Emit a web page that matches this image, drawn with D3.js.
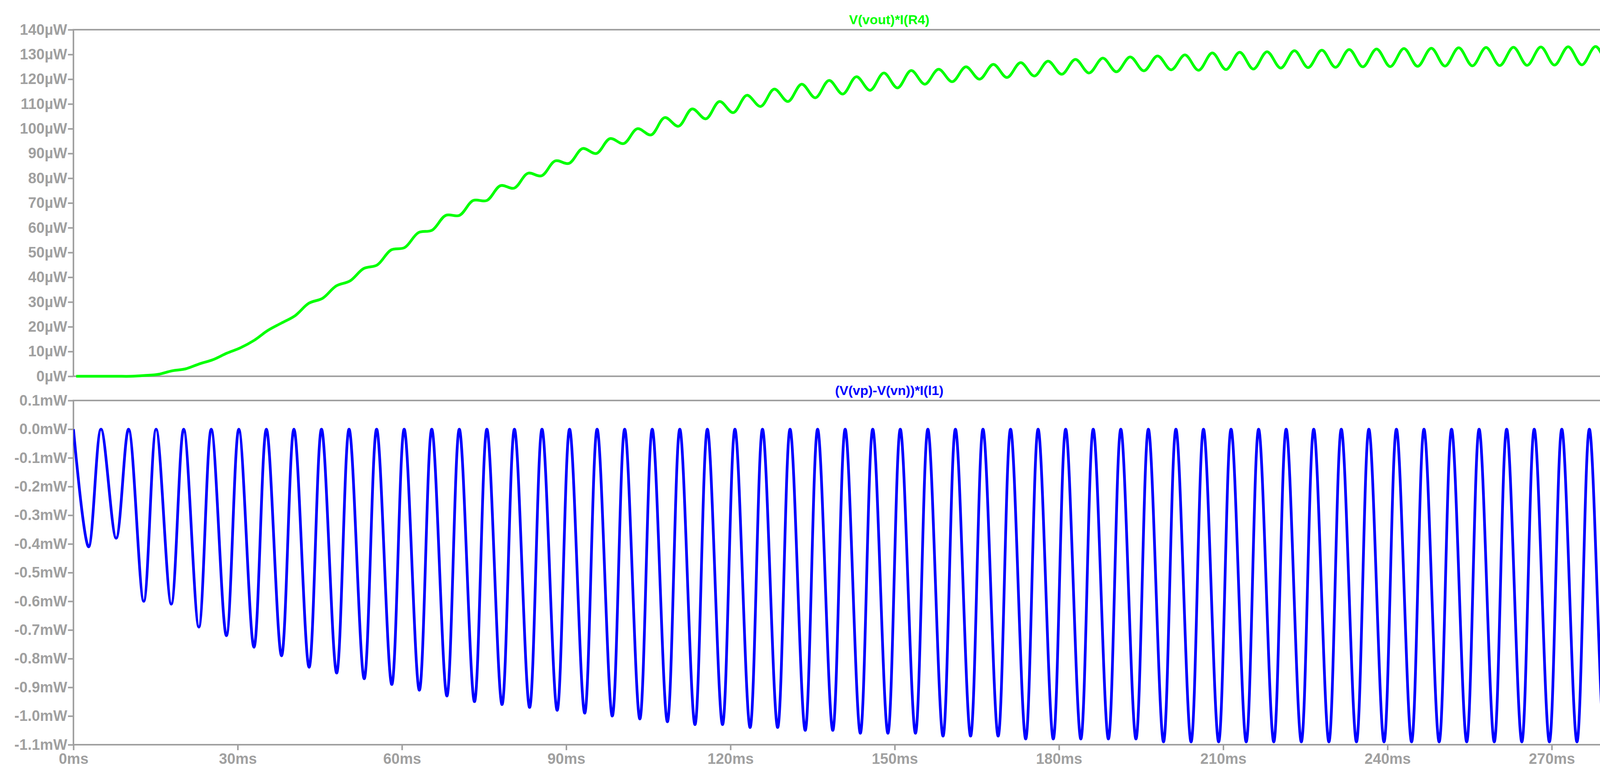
<!DOCTYPE html>
<html>
<head>
<meta charset="utf-8">
<script src="https://cdn.jsdelivr.net/npm/d3@7"></script>
<style>
  body { margin: 0; background: #fff; }
  text { font-family: "Liberation Sans Narrow", "Liberation Sans", Arial, sans-serif; }
</style>
</head>
<body>
<div id="chart"></div>
<script>
// tick labels
const xTicks = [0, 30, 60, 90, 120, 150, 180, 210, 240, 270]
const topTicks = [0, 10, 20, 30, 40, 50, 60, 70, 80, 90, 100, 110, 120, 130, 140]
const botTicks = [0.1, 0.0, -0.1, -0.2, -0.3, -0.4, -0.5, -0.6, -0.7, -0.8, -0.9, -1.0, -1.1]

// V(vout)*I(R4) in µW, one peak and one trough per ripple cycle (5ms)
const greenPeak = [0,0,0.3,2.2,5,9.3,14.5,21.5,29.5,36.5,43.5,51,58,65,71,77,82,87,92,96,100,104.5,108,111,113.5,116,118,119.5,121,122.5,123.5,124,125,126,126.7,127.3,128,128.5,129,129.4,129.8,130.6,130.9,131.1,131.5,131.7,132,132.2,132.4,132.5,132.7,132.8,132.9,133,133.1,133.2,133.3,133.4,133.5,133.6]
const greenTrough = [0,0,0,0.8,3,6.7,11.5,18.5,24.5,31.5,38.5,45,52,59,65,71,76,81,86,90,94,97.5,101,104,106.5,109,111,112.5,114,115.5,116.5,118,119,120,120.7,121.3,122,122.5,123,123.4,123.8,123.6,123.9,124.1,124.5,124.7,124.8,125,125.1,125.2,125.3,125.4,125.5,125.6,125.7,125.8,125.9,126,126.1,126.2]

// (V(vp)-V(vn))*I(l1) in mW, trough of each cycle (peaks sit at 0)
const blueTrough = [-0.41,-0.38,-0.60,-0.61,-0.69,-0.72,-0.76,-0.79,-0.83,-0.85,-0.87,-0.89,-0.91,-0.93,-0.95,-0.96,-0.97,-0.98,-0.99,-1.00,-1.01,-1.02,-1.03,-1.03,-1.04,-1.04,-1.05,-1.05,-1.06,-1.06,-1.06,-1.07,-1.07,-1.07,-1.08,-1.08,-1.08,-1.08,-1.08,-1.09,-1.09,-1.09,-1.09,-1.09,-1.09,-1.09,-1.09,-1.09,-1.09,-1.09,-1.09,-1.09,-1.09,-1.09,-1.09,-1.09,-1.09,-1.09,-1.09]

const W = 4401, H = 2004
const left = 188, right = 4365
const grey = "#a0a0a0"

const svg = d3.select("#chart").append("svg")
  .attr("width", W).attr("height", H)

const x = d3.scaleLinear().domain([0, 298]).range([left, right])

//build the point lists for each trace
const greenPts = []
greenPeak.forEach((p, k) => {
  greenPts.push([k * 5 + 0.5, greenTrough[k]])
  greenPts.push([k * 5 + 3, p])
})
const bluePeriod = 297 / blueTrough.length
const bluePts = [[0, 0]]
blueTrough.forEach((v, k) => {
  bluePts.push([k * bluePeriod + bluePeriod * 0.55, v])
  bluePts.push([(k + 1) * bluePeriod, 0])
})

function panel(top, bottom, domain, ticks, fmt, title, color, pts) {
  const y = d3.scaleLinear().domain(domain).range([bottom, top])
  const g = svg.append("g")

  //box
  g.append("rect")
    .attr("x", left).attr("y", top)
    .attr("width", right - left).attr("height", bottom - top)
    .attr("fill", "none").attr("stroke", grey).attr("stroke-width", 4)

  const yAxis = d3.axisLeft(y).tickValues(ticks).tickFormat(fmt).tickSize(14).tickPadding(2)
  g.append("g").attr("transform", `translate(${left},0)`).call(yAxis)
    .call(a => a.select(".domain").remove())
    .call(a => a.selectAll("line").attr("stroke", grey).attr("stroke-width", 4))
    .call(a => a.selectAll("text").attr("fill", grey).attr("font-size", 38).attr("font-weight", "bold").attr("font-family", null))

  g.append("text")
    .attr("x", (left + right) / 2).attr("y", top - 14)
    .attr("text-anchor", "middle")
    .attr("font-size", 34).attr("font-weight", "bold")
    .attr("fill", color).text(title)

  const clip = "clip" + Math.round(top)
  g.append("clipPath").attr("id", clip).append("rect")
    .attr("x", left).attr("y", top - 6).attr("width", right - left).attr("height", bottom - top + 12)

  g.append("path")
    .datum(pts)
    .attr("clip-path", `url(#${clip})`)
    .attr("fill", "none").attr("stroke", color).attr("stroke-width", 7)
    .attr("d", d3.line().x(d => x(d[0])).y(d => y(d[1])).curve(d3.curveCatmullRom.alpha(0.5)))
  return g
}

panel(76, 963, [0, 140], topTicks, d => d + "µW", "V(vout)*I(R4)", "#00ff00", greenPts)
panel(1025, 1906, [-1.1, 0.1], botTicks, d => d3.format(".1f")(d).replace("−", "-") + "mW", "(V(vp)-V(vn))*I(l1)", "#0000ff", bluePts)

//time axis
const xAxis = d3.axisBottom(x).tickValues(xTicks).tickFormat(d => d + "ms").tickSize(14).tickPadding(8)
svg.append("g").attr("transform", "translate(0,1906)").call(xAxis)
  .call(a => a.select(".domain").remove())
  .call(a => a.selectAll("line").attr("stroke", grey).attr("stroke-width", 4))
  .call(a => a.selectAll("text").attr("fill", grey).attr("font-size", 38).attr("font-weight", "bold").attr("font-family", null))
</script>
</body>
</html>
